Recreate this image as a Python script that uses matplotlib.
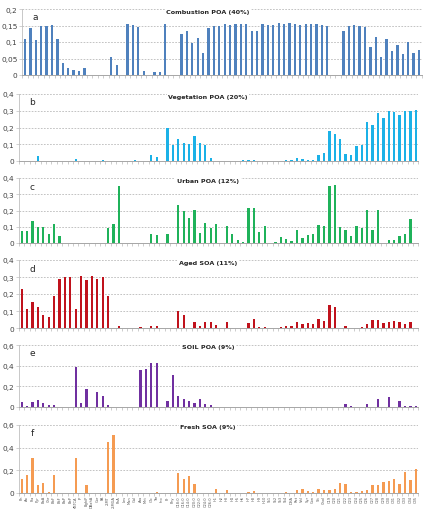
import matplotlib
matplotlib.use("Agg")
import matplotlib.pyplot as plt
from matplotlib.ticker import FixedLocator, FuncFormatter

labels = ["Ph", "An", "Fla", "Pyr", "BaA", "Chr", "BbF", "BkF", "BaP", "BeP",
          "MBTCA", "IP", "BghiP", "DBahA", "Cor", "PA", "2-MT", "2-MGA", "PnA", "Lev",
          "Man", "Gal", "Ara", "Mnt", "Glc", "Tre", "Ino", "Pr", "Phy", "C18:0",
          "C16:0", "C14:0", "C20:0", "C22:0", "C24:0", "C26:0", "H1", "H2", "H3", "H4",
          "H5", "H6", "H7", "H8", "H9", "H10", "St1", "St2", "St3", "St4",
          "DHA", "Ret", "Vnl", "Syr", "Con", "Sit", "Chol", "C19", "C20", "C21",
          "C22", "C23", "C24", "C25", "C26", "C27", "C28", "C29", "C30", "C31",
          "C32", "C33", "C34", "C35"]

combustion_poa = [0.110, 0.143, 0.105, 0.148, 0.148, 0.151, 0.110, 0.037, 0.021, 0.016,
                  0.012, 0.022, 0, 0, 0, 0, 0.055, 0.031, 0, 0.155,
                  0.153, 0.145, 0.013, 0, 0.010, 0.010, 0.155, 0, 0, 0.123,
                  0.132, 0.098, 0.113, 0.068, 0.142, 0.149, 0.147, 0.156, 0.151, 0.154,
                  0.156, 0.156, 0.134, 0.132, 0.154, 0.151, 0.152, 0.157, 0.156, 0.158,
                  0.156, 0.153, 0.155, 0.156, 0.156, 0.151, 0.150, 0, 0, 0.134,
                  0.150, 0.152, 0.147, 0.146, 0.085, 0.114, 0.054, 0.109, 0.072, 0.092,
                  0.064, 0.099, 0.067, 0.077]

vegetation_poa = [0, 0, 0, 0.032, 0, 0.002, 0, 0, 0, 0,
                  0.010, 0, 0, 0, 0, 0.008, 0, 0, 0, 0,
                  0, 0.008, 0, 0, 0.036, 0.022, 0, 0.200, 0.095, 0.132,
                  0.107, 0.103, 0.148, 0.107, 0.093, 0.017, 0, 0, 0, 0,
                  0, 0.006, 0.006, 0.004, 0, 0, 0, 0, 0, 0.006,
                  0.004, 0.018, 0.014, 0.006, 0.008, 0.036, 0.045, 0.178, 0.164, 0.130,
                  0.040, 0.038, 0.090, 0.096, 0.230, 0.216, 0.285, 0.254, 0.298, 0.293,
                  0.276, 0.300, 0.296, 0.306]

urban_poa = [0.072, 0.072, 0.134, 0.099, 0.100, 0.058, 0.115, 0.045, 0, 0,
             0, 0, 0, 0, 0, 0, 0.090, 0.120, 0.350, 0,
             0, 0, 0, 0, 0.054, 0.052, 0, 0.056, 0, 0.233,
             0.200, 0.153, 0.202, 0.060, 0.124, 0.090, 0.115, 0, 0.105, 0.054,
             0.020, 0.006, 0.216, 0.216, 0.068, 0.103, 0, 0.008, 0.039, 0.023,
             0.014, 0.082, 0.033, 0.052, 0.056, 0.111, 0.103, 0.350, 0.355, 0.099,
             0.080, 0.041, 0.107, 0.093, 0.206, 0.078, 0.204, 0, 0.020, 0.020,
             0.043, 0.058, 0.146, 0]

aged_soa = [0.227, 0.114, 0.155, 0.124, 0.078, 0.065, 0.188, 0.288, 0.300, 0.300,
            0.114, 0.306, 0.284, 0.306, 0.288, 0.302, 0.188, 0, 0.014, 0,
            0, 0, 0.006, 0, 0.010, 0.010, 0, 0, 0, 0.100,
            0.075, 0, 0.033, 0.012, 0.035, 0.035, 0.020, 0, 0.033, 0,
            0, 0, 0.027, 0.051, 0.008, 0.008, 0, 0, 0.006, 0.014,
            0.014, 0.037, 0.025, 0.029, 0.025, 0.051, 0.041, 0.137, 0.124, 0,
            0.010, 0, 0, 0.006, 0.022, 0.047, 0.047, 0.027, 0.037, 0.039,
            0.033, 0.025, 0.035, 0]

soil_poa = [0.045, 0.010, 0.048, 0.067, 0.038, 0.016, 0.022, 0, 0, 0,
            0.388, 0.042, 0.173, 0, 0.147, 0.109, 0.022, 0, 0, 0,
            0, 0, 0.359, 0.369, 0.423, 0.430, 0, 0.061, 0.308, 0.106,
            0.077, 0.054, 0.038, 0.074, 0.032, 0.019, 0, 0, 0, 0,
            0, 0, 0, 0, 0, 0, 0, 0, 0, 0,
            0, 0, 0, 0, 0, 0, 0, 0, 0, 0,
            0.026, 0.010, 0, 0, 0.026, 0, 0.074, 0, 0.096, 0,
            0.054, 0.013, 0.013, 0.013]

fresh_soa = [0.123, 0.155, 0.307, 0.073, 0.088, 0.009, 0.158, 0, 0, 0,
             0.310, 0, 0.073, 0, 0, 0, 0.450, 0.512, 0, 0,
             0, 0, 0, 0, 0, 0.009, 0, 0, 0, 0.175,
             0.120, 0.146, 0.079, 0, 0, 0.004, 0.035, 0, 0.029, 0,
             0, 0, 0.006, 0.015, 0, 0, 0, 0, 0, 0.006,
             0, 0.023, 0.035, 0.015, 0.009, 0.038, 0.023, 0.023, 0.035, 0.090,
             0.079, 0.009, 0.006, 0.015, 0.023, 0.070, 0.070, 0.094, 0.102, 0.120,
             0.082, 0.187, 0.111, 0.210]

panels = [
    ("a", "Combustion POA (40%)", combustion_poa, "#4F81BD", [0, 0.05, 0.1, 0.15, 0.2]),
    ("b", "Vegetation POA (20%)", vegetation_poa, "#1BB1E7", [0, 0.1, 0.2, 0.3, 0.4]),
    ("c", "Urban POA (12%)", urban_poa, "#1FB25A", [0, 0.1, 0.2, 0.3, 0.4]),
    ("d", "Aged SOA (11%)", aged_soa, "#C0121C", [0, 0.1, 0.2, 0.3, 0.4]),
    ("e", "SOIL POA (9%)", soil_poa, "#7030A0", [0, 0.2, 0.4, 0.6]),
    ("f", "Fresh SOA (9%)", fresh_soa, "#F59B52", [0, 0.2, 0.4, 0.6]),
]

W, H = 431, 510
# (left px, top px, right px, bottom px) for each plot area
boxes = [
    (22.3, 10, 421.7, 76),
    (19, 95, 418.5, 162),
    (19, 179, 418.5, 244),
    (19, 261, 418.5, 329),
    (19, 346, 418.5, 408),
    (19, 426, 418.5, 494),
]
title_y = [12.5, 98, 181, 264, 348, 428]

fig = plt.figure(figsize=(W / 100, H / 100), dpi=100)
fig.patch.set_facecolor("white")

def fmt(v, pos):
    if v == 0:
        return "0"
    return ("%g" % v).replace(".", ",")

n = len(labels)
x = list(range(n))
for k, (letter, title, vals, color, yt) in enumerate(panels):
    l, t, r, b = boxes[k]
    ax = fig.add_axes([l / W, 1 - b / H, (r - l) / W, (b - t) / H])
    ax.bar(x, vals, width=0.42, color=color, zorder=3)
    ax.set_xlim(-0.5, n - 0.5)
    ax.set_ylim(yt[0], yt[-1])
    ax.yaxis.set_major_locator(FixedLocator(yt))
    ax.yaxis.set_major_formatter(FuncFormatter(fmt))
    for v in yt[1:]:
        ax.axhline(v, color="#B3B3B3", lw=0.55, ls=(0, (2.2, 1.8)), zorder=1)
    for s in ["top", "right"]:
        ax.spines[s].set_visible(False)
    ax.spines["left"].set_color("#BFBFBF")
    ax.spines["left"].set_linewidth(0.6)
    ax.spines["bottom"].set_color("#A6A6A6")
    ax.spines["bottom"].set_linewidth(0.7)
    ax.tick_params(axis="y", labelsize=5.3, colors="#404040", length=2, width=0.5,
                   pad=1.5, color="#BFBFBF")
    ax.set_xticks(x)
    ax.set_xticks([i - 0.5 for i in range(n + 1)], minor=True)
    ax.tick_params(axis="x", which="major", length=0)
    ax.tick_params(axis="x", which="minor", length=2, width=0.4, color="#A6A6A6")
    if k == len(panels) - 1:
        ax.set_xticklabels(labels, rotation=90, fontsize=2.6, color="#595959")
        ax.tick_params(axis="x", which="major", pad=1.5)
    else:
        ax.set_xticklabels([])
    ax.set_facecolor("none")
    ax.text((l + 13) / W, 1 - (t + 8) / H, letter, transform=fig.transFigure,
            fontsize=6.5, color="#262626", ha="center", va="center")
    fig.text(208 / W, 1 - title_y[k] / H, title, fontsize=4.6, fontweight="bold",
             color="#262626", ha="center", va="center",
             bbox=dict(facecolor="white", edgecolor="none", pad=1.2), zorder=5)

fig.savefig("out.png", dpi=100, facecolor="white")
